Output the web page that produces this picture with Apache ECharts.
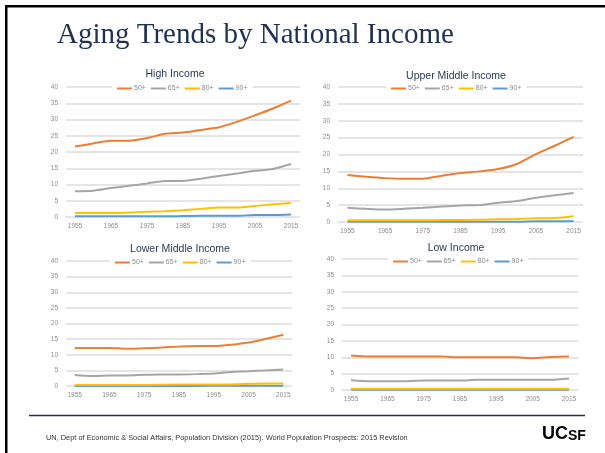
<!DOCTYPE html>
<html>
<head>
<meta charset="utf-8">
<script src="https://cdn.jsdelivr.net/npm/echarts@6/dist/echarts.min.js"></script>
<style>
  html, body { margin: 0; padding: 0; background: #fff; }
  #chart { width: 605px; height: 453px; }
</style>
</head>
<body>
<div id="chart"></div>
<script>
// Share of population (%) by age group, 1955–2015, World Bank income groups
const years = ['1955','1960','1965','1970','1975','1980','1985','1990','1995','2000','2005','2010','2015'];
const ageGroups = ['50+', '65+', '80+', '90+'];
const yTicks = [0, 5, 10, 15, 20, 25, 30, 35, 40];

const highIncome50 = [21.7, 22.6, 23.5, 23.5, 24.3, 25.6, 26.0, 26.8, 27.6, 29.3, 31.3, 33.4, 35.8];
const highIncome65 = [7.9, 8.1, 8.9, 9.6, 10.3, 11.1, 11.1, 11.8, 12.6, 13.4, 14.2, 14.8, 16.3];
const highIncome80 = [1.2, 1.2, 1.2, 1.4, 1.6, 1.8, 2.1, 2.5, 2.9, 2.9, 3.4, 3.9, 4.3];
const highIncome90 = [0.2, 0.2, 0.2, 0.2, 0.2, 0.2, 0.3, 0.4, 0.4, 0.4, 0.6, 0.6, 0.8];

const upperMiddle50 = [13.9, 13.4, 13.0, 12.8, 12.8, 13.7, 14.5, 15.0, 15.7, 17.2, 20.1, 22.6, 25.2];
const upperMiddle65 = [4.2, 3.9, 3.7, 3.9, 4.2, 4.6, 4.9, 5.0, 5.7, 6.2, 7.2, 7.9, 8.6];
const upperMiddle80 = [0.5, 0.5, 0.5, 0.5, 0.5, 0.6, 0.6, 0.7, 0.8, 0.9, 1.1, 1.2, 1.7];
const upperMiddle90 = [0.1, 0.1, 0.1, 0.1, 0.1, 0.1, 0.1, 0.1, 0.1, 0.1, 0.2, 0.2, 0.3];

const lowerMiddle50 = [12.2, 12.2, 12.2, 11.9, 12.1, 12.3, 12.6, 12.8, 12.8, 13.2, 13.9, 15.1, 16.4];
const lowerMiddle65 = [3.5, 3.2, 3.4, 3.4, 3.6, 3.7, 3.7, 3.8, 4.0, 4.5, 4.7, 5.0, 5.3];
const lowerMiddle80 = [0.3, 0.3, 0.3, 0.3, 0.3, 0.4, 0.5, 0.5, 0.5, 0.5, 0.7, 0.8, 0.8];
const lowerMiddle90 = [0.0, 0.0, 0.0, 0.0, 0.0, 0.0, 0.0, 0.0, 0.1, 0.1, 0.1, 0.1, 0.1];

const low50 = [10.5, 10.2, 10.2, 10.2, 10.2, 10.2, 10.0, 10.0, 10.0, 10.0, 9.7, 10.1, 10.2];
const low65 = [3.0, 2.7, 2.7, 2.7, 2.9, 2.9, 2.9, 3.1, 3.1, 3.1, 3.1, 3.1, 3.5];
const low80 = [0.4, 0.4, 0.4, 0.4, 0.4, 0.4, 0.4, 0.4, 0.4, 0.4, 0.4, 0.4, 0.4];
const low90 = [0.05, 0.05, 0.05, 0.05, 0.05, 0.05, 0.05, 0.05, 0.05, 0.05, 0.05, 0.05, 0.05];

const panels = [
  { name: 'High Income', values: [highIncome50, highIncome65, highIncome80, highIncome90],
    grid: { left: 66, top: 87, width: 234, height: 130 }, titleX: 175, titleY: 69, legendLeft: 112, legendTop: 84 },
  { name: 'Upper Middle Income', values: [upperMiddle50, upperMiddle65, upperMiddle80, upperMiddle90],
    grid: { left: 338, top: 87, width: 245, height: 135 }, titleX: 456, titleY: 71, legendLeft: 386, legendTop: 84 },
  { name: 'Lower Middle Income', values: [lowerMiddle50, lowerMiddle65, lowerMiddle80, lowerMiddle90],
    grid: { left: 66, top: 261, width: 226, height: 125 }, titleX: 180, titleY: 244, legendLeft: 110, legendTop: 258 },
  { name: 'Low Income', values: [low50, low65, low80, low90],
    grid: { left: 342, top: 259, width: 236, height: 131 }, titleX: 456, titleY: 243, legendLeft: 388, legendTop: 257 }
];

const colors = ['#ED7D31', '#A5A5A5', '#FFC000', '#5B9BD5'];
const labelColor = '#8c8c8c';
const gridColor = '#dcdcdc';
const navy = '#1f3050';
const sans = 'Liberation Sans, Arial, sans-serif';

const option = {
  animation: false,
  backgroundColor: '#ffffff',
  color: colors,
  title: panels.map(p => ({
    text: p.name,
    left: p.titleX,
    top: p.titleY,
    padding: 0,
    textAlign: 'center',
    z: 20,
    textStyle: { fontFamily: sans, fontSize: 10.5, fontWeight: 'normal', color: '#2b3a58' }
  })),
  legend: panels.map(p => ({
    data: ageGroups.map(g => ({ name: g })),
    left: p.legendLeft,
    top: p.legendTop,
    orient: 'horizontal',
    icon: 'rect',
    itemWidth: 15,
    itemHeight: 2,
    itemGap: 5,
    padding: [1, 5],
    backgroundColor: '#ffffff',
    textStyle: { fontFamily: sans, fontSize: 7, color: labelColor, padding: [0, 0, 0, -3] },
    selectedMode: false,
    z: 10
  })),
  grid: panels.map(p => Object.assign({ containLabel: false }, p.grid)),
  xAxis: panels.map((p, i) => ({
    type: 'category',
    gridIndex: i,
    data: years,
    boundaryGap: true,
    axisLine: { show: false },
    axisTick: { show: false },
    axisLabel: { interval: 1, fontSize: 6.5, color: labelColor, margin: 6, fontFamily: sans },
    splitLine: { show: false }
  })),
  yAxis: panels.map((p, i) => ({
    type: 'value',
    gridIndex: i,
    min: yTicks[0],
    max: yTicks[yTicks.length - 1],
    interval: yTicks[1] - yTicks[0],
    axisLine: { show: false },
    axisTick: { show: false },
    axisLabel: { fontSize: 6.5, color: labelColor, margin: 8, fontFamily: sans },
    splitLine: { show: true, lineStyle: { color: gridColor, width: 1.5 } }
  })),
  series: [],
  graphic: [
    // slide frame (top and left edges)
    { type: 'rect', shape: { x: 5, y: 5, width: 600, height: 2.5 }, style: { fill: '#000' } },
    { type: 'rect', shape: { x: 5, y: 5, width: 2.5, height: 448 }, style: { fill: '#000' } },
    // slide heading
    { type: 'text', left: 57, top: 21,
      style: { text: 'Aging Trends by National Income', fill: navy,
               font: '29px "Liberation Serif", "Times New Roman", serif' } },
    // footer rule
    { type: 'line', shape: { x1: 29, y1: 415.5, x2: 585, y2: 415.5 }, style: { stroke: navy, lineWidth: 1.5 } },
    // source note
    { type: 'text', left: 46, top: 434,
      style: { text: 'UN, Dept of Economic & Social Affairs, Population Division (2015). World Population Prospects: 2015 Revision',
               fill: '#333333', font: '7.4px "Liberation Sans", Arial, sans-serif' } },
    // UCSF wordmark
    { type: 'text', left: 542, top: 425,
      style: { text: '{a|UC}{b|SF}', rich: {
        a: { fontFamily: sans, fontWeight: 'bold', fontSize: 18, color: '#052049' },
        b: { fontFamily: sans, fontWeight: 'bold', fontSize: 14, color: '#052049', padding: [5, 0, 0, 0] }
      } } }
  ]
};

panels.forEach((p, i) => {
  ageGroups.forEach((g, k) => {
    option.series.push({
      name: g,
      type: 'line',
      xAxisIndex: i,
      yAxisIndex: i,
      data: p.values[k],
      showSymbol: false,
      symbol: 'none',
      smooth: 0.25,
      lineStyle: { width: 2, color: colors[k] },
      itemStyle: { color: colors[k] },
      z: 2 + (4 - k)
    });
  });
});

const chart = echarts.init(document.getElementById('chart'), null, { renderer: 'canvas' });
chart.setOption(option);
</script>
</body>
</html>
